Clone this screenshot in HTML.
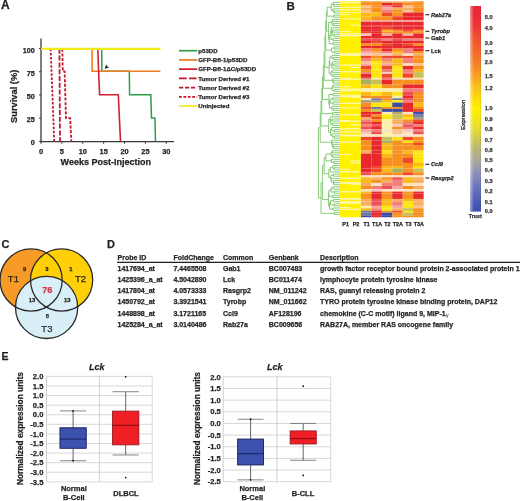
<!DOCTYPE html>
<html><head><meta charset="utf-8"><style>
html,body{margin:0;padding:0;background:#fff;}
body{width:520px;height:501px;overflow:hidden;}
svg{display:block;filter:blur(0.3px);font-family:"Liberation Sans", sans-serif;}
</style></head><body>
<svg width="520" height="501" viewBox="0 0 520 501">
<text x="1.0" y="8.5" font-size="12" font-weight="bold" font-style="normal" text-anchor="start" fill="#231f20" stroke="#231f20" stroke-width="0.25" >A</text>
<line x1="41" y1="38.5" x2="41" y2="142.3" stroke="#3a3a3a" stroke-width="1.3" />
<line x1="40.4" y1="141.7" x2="174" y2="141.7" stroke="#3a3a3a" stroke-width="1.3" />
<line x1="39" y1="141.3" x2="41" y2="141.3" stroke="#3a3a3a" stroke-width="1" />
<text x="34.7" y="145.3" font-size="7.2" font-weight="bold" font-style="normal" text-anchor="end" fill="#231f20" stroke="#231f20" stroke-width="0.25" >0</text>
<line x1="39" y1="118.11250000000001" x2="41" y2="118.11250000000001" stroke="#3a3a3a" stroke-width="1" />
<text x="34.7" y="122.11250000000001" font-size="7.2" font-weight="bold" font-style="normal" text-anchor="end" fill="#231f20" stroke="#231f20" stroke-width="0.25" >25</text>
<line x1="39" y1="94.92500000000001" x2="41" y2="94.92500000000001" stroke="#3a3a3a" stroke-width="1" />
<text x="34.7" y="98.92500000000001" font-size="7.2" font-weight="bold" font-style="normal" text-anchor="end" fill="#231f20" stroke="#231f20" stroke-width="0.25" >50</text>
<line x1="39" y1="71.73750000000001" x2="41" y2="71.73750000000001" stroke="#3a3a3a" stroke-width="1" />
<text x="34.7" y="75.73750000000001" font-size="7.2" font-weight="bold" font-style="normal" text-anchor="end" fill="#231f20" stroke="#231f20" stroke-width="0.25" >75</text>
<line x1="39" y1="48.55000000000001" x2="41" y2="48.55000000000001" stroke="#3a3a3a" stroke-width="1" />
<text x="34.7" y="52.55000000000001" font-size="7.2" font-weight="bold" font-style="normal" text-anchor="end" fill="#231f20" stroke="#231f20" stroke-width="0.25" >100</text>
<line x1="41.0" y1="141.7" x2="41.0" y2="143.8" stroke="#3a3a3a" stroke-width="1" />
<text x="41.0" y="154.2" font-size="7.4" font-weight="bold" font-style="normal" text-anchor="middle" fill="#231f20" stroke="#231f20" stroke-width="0.25" >0</text>
<line x1="61.879999999999995" y1="141.7" x2="61.879999999999995" y2="143.8" stroke="#3a3a3a" stroke-width="1" />
<text x="61.879999999999995" y="154.2" font-size="7.4" font-weight="bold" font-style="normal" text-anchor="middle" fill="#231f20" stroke="#231f20" stroke-width="0.25" >5</text>
<line x1="82.75999999999999" y1="141.7" x2="82.75999999999999" y2="143.8" stroke="#3a3a3a" stroke-width="1" />
<text x="82.75999999999999" y="154.2" font-size="7.4" font-weight="bold" font-style="normal" text-anchor="middle" fill="#231f20" stroke="#231f20" stroke-width="0.25" >10</text>
<line x1="103.64" y1="141.7" x2="103.64" y2="143.8" stroke="#3a3a3a" stroke-width="1" />
<text x="103.64" y="154.2" font-size="7.4" font-weight="bold" font-style="normal" text-anchor="middle" fill="#231f20" stroke="#231f20" stroke-width="0.25" >15</text>
<line x1="124.52" y1="141.7" x2="124.52" y2="143.8" stroke="#3a3a3a" stroke-width="1" />
<text x="124.52" y="154.2" font-size="7.4" font-weight="bold" font-style="normal" text-anchor="middle" fill="#231f20" stroke="#231f20" stroke-width="0.25" >20</text>
<line x1="145.39999999999998" y1="141.7" x2="145.39999999999998" y2="143.8" stroke="#3a3a3a" stroke-width="1" />
<text x="145.39999999999998" y="154.2" font-size="7.4" font-weight="bold" font-style="normal" text-anchor="middle" fill="#231f20" stroke="#231f20" stroke-width="0.25" >25</text>
<line x1="166.28" y1="141.7" x2="166.28" y2="143.8" stroke="#3a3a3a" stroke-width="1" />
<text x="166.28" y="154.2" font-size="7.4" font-weight="bold" font-style="normal" text-anchor="middle" fill="#231f20" stroke="#231f20" stroke-width="0.25" >30</text>
<text x="105.8" y="165.0" font-size="9.0" font-weight="bold" font-style="normal" text-anchor="middle" fill="#231f20" stroke="#231f20" stroke-width="0.25" >Weeks Post-Injection</text>
<text x="0" y="0" font-size="9.3" font-weight="bold" font-style="normal" text-anchor="middle" fill="#231f20" stroke="#231f20" stroke-width="0.25" transform="translate(17.3,96.3) rotate(-90)">Survival (%)</text>
<polyline points="50.60,48.80 52.50,96.00 54.20,141.50" fill="none" stroke="#c0182e" stroke-width="1.8" stroke-dasharray="2.5,1.6"/>
<polyline points="59.40,48.80 59.70,95.00 60.00,141.50" fill="none" stroke="#c0182e" stroke-width="1.8" stroke-dasharray="5,1.8"/>
<polyline points="62.30,48.80 62.80,71.30 64.60,71.30 66.00,118.20 70.20,118.20 71.30,141.50" fill="none" stroke="#c0182e" stroke-width="1.8" stroke-dasharray="3,1.6"/>
<polyline points="101.80,48.80 101.80,71.30 129.30,71.30 129.60,94.80 150.80,94.80 151.50,118.00 154.90,118.00 155.50,141.30" fill="none" stroke="#2e9e48" stroke-width="1.5" />
<polyline points="92.10,48.80 92.10,71.30 160.40,71.30" fill="none" stroke="#ef7d22" stroke-width="1.6" />
<polyline points="97.80,48.80 98.60,71.30 99.60,94.80 118.30,94.80 120.50,141.30" fill="none" stroke="#d21f2f" stroke-width="1.6" />
<line x1="41" y1="48.9" x2="160.4" y2="48.9" stroke="#f3ea1c" stroke-width="2.3" />
<path d="M105.0,68.5 L106.3,64.9 L106.9,66.6 L108.7,67.3 Z" fill="#111" stroke="#111" stroke-width="0.4"/>
<line x1="179" y1="50.7" x2="197.2" y2="50.7" stroke="#2e9e48" stroke-width="1.7" />
<text x="198.3" y="52.900000000000006" font-size="6.1" font-weight="bold" font-style="normal" text-anchor="start" fill="#231f20" stroke="#231f20" stroke-width="0.25" >p53DD</text>
<line x1="179" y1="59.92" x2="197.2" y2="59.92" stroke="#ef7d22" stroke-width="1.7" />
<text x="198.3" y="62.120000000000005" font-size="6.1" font-weight="bold" font-style="normal" text-anchor="start" fill="#231f20" stroke="#231f20" stroke-width="0.25" >GFP-Bfl-1/p53DD</text>
<line x1="179" y1="69.14" x2="197.2" y2="69.14" stroke="#d21f2f" stroke-width="1.7" />
<text x="198.3" y="71.34" font-size="6.1" font-weight="bold" font-style="normal" text-anchor="start" fill="#231f20" stroke="#231f20" stroke-width="0.25" >GFP-Bfl-1&#916;C/p53DD</text>
<line x1="179" y1="78.36000000000001" x2="197.2" y2="78.36000000000001" stroke="#c0182e" stroke-width="1.7" stroke-dasharray="7.6,2.4"/>
<text x="198.3" y="80.56000000000002" font-size="6.1" font-weight="bold" font-style="normal" text-anchor="start" fill="#231f20" stroke="#231f20" stroke-width="0.25" >Tumor Derived #1</text>
<line x1="179" y1="87.58000000000001" x2="197.2" y2="87.58000000000001" stroke="#c0182e" stroke-width="1.7" stroke-dasharray="4.2,1.8"/>
<text x="198.3" y="89.78000000000002" font-size="6.1" font-weight="bold" font-style="normal" text-anchor="start" fill="#231f20" stroke="#231f20" stroke-width="0.25" >Tumor Derived #2</text>
<line x1="179" y1="96.80000000000001" x2="197.2" y2="96.80000000000001" stroke="#c0182e" stroke-width="1.7" stroke-dasharray="2.8,1.6"/>
<text x="198.3" y="99.00000000000001" font-size="6.1" font-weight="bold" font-style="normal" text-anchor="start" fill="#231f20" stroke="#231f20" stroke-width="0.25" >Tumor Derived #3</text>
<line x1="179" y1="106.02000000000001" x2="197.2" y2="106.02000000000001" stroke="#f3ea1c" stroke-width="1.7" />
<text x="198.3" y="108.22000000000001" font-size="6.1" font-weight="bold" font-style="normal" text-anchor="start" fill="#231f20" stroke="#231f20" stroke-width="0.25" >Uninjected</text>
<text x="286.5" y="9.8" font-size="11.5" font-weight="bold" font-style="normal" text-anchor="start" fill="#231f20" stroke="#231f20" stroke-width="0.25" >B</text>
<rect x="340.0" y="1.3" width="20.90" height="215.90" fill="#fff100"/>
<rect x="340.0" y="2" width="20.90" height="1.50" fill="#fff5a0"/>
<rect x="340.0" y="6.6" width="20.90" height="1.40" fill="#fff5a0"/>
<rect x="340.0" y="9" width="20.90" height="1.50" fill="#fff5a0"/>
<rect x="340.0" y="12" width="20.90" height="1.00" fill="#fff5a0"/>
<rect x="340.0" y="34.5" width="20.90" height="1.50" fill="#fff5a0"/>
<rect x="340.0" y="53" width="20.90" height="3.00" fill="#fff5a0"/>
<rect x="340.0" y="64.5" width="20.90" height="1.50" fill="#fff5a0"/>
<rect x="340.0" y="71" width="20.90" height="1.50" fill="#fff5a0"/>
<rect x="340.0" y="78.5" width="20.90" height="1.50" fill="#fff5a0"/>
<rect x="340.0" y="88.5" width="20.90" height="2.50" fill="#fff5a0"/>
<rect x="340.0" y="96" width="20.90" height="1.50" fill="#fff5a0"/>
<rect x="340.0" y="102.5" width="20.90" height="1.50" fill="#fff5a0"/>
<rect x="340.0" y="114" width="20.90" height="1.50" fill="#fff5a0"/>
<rect x="340.0" y="120.5" width="20.90" height="1.50" fill="#fff5a0"/>
<rect x="340.0" y="128" width="20.90" height="1.50" fill="#fff5a0"/>
<rect x="340.0" y="131" width="20.90" height="1.50" fill="#fff5a0"/>
<rect x="340.0" y="134.5" width="20.90" height="2.00" fill="#fff5a0"/>
<rect x="340.0" y="141.5" width="20.90" height="1.50" fill="#fff5a0"/>
<rect x="340.0" y="171" width="20.90" height="1.50" fill="#fff5a0"/>
<rect x="340.0" y="177.5" width="20.90" height="1.50" fill="#fff5a0"/>
<rect x="340.0" y="182" width="20.90" height="2.00" fill="#fff5a0"/>
<rect x="340.0" y="191" width="20.90" height="1.50" fill="#fff5a0"/>
<rect x="340.0" y="198" width="20.90" height="1.50" fill="#fff5a0"/>
<rect x="340.0" y="201" width="20.90" height="2.00" fill="#fff5a0"/>
<rect x="340.0" y="208.5" width="20.90" height="1.50" fill="#fff5a0"/>
<rect x="340.00" y="14.02" width="10.45" height="1.1" fill="#fff7b0"/>
<rect x="340.00" y="18.26" width="20.90" height="1.1" fill="#fff7b0"/>
<rect x="350.45" y="24.62" width="10.45" height="1.1" fill="#fff7b0"/>
<rect x="340.00" y="30.98" width="10.45" height="1.1" fill="#fff7b0"/>
<rect x="340.00" y="33.10" width="20.90" height="1.1" fill="#fff7b0"/>
<rect x="340.00" y="35.22" width="20.90" height="1.1" fill="#fff7b0"/>
<rect x="350.45" y="67.02" width="10.45" height="1.1" fill="#fff7b0"/>
<rect x="340.00" y="77.62" width="10.45" height="1.1" fill="#fff7b0"/>
<rect x="340.00" y="86.10" width="10.45" height="1.1" fill="#fff7b0"/>
<rect x="340.00" y="90.34" width="10.45" height="1.1" fill="#fff7b0"/>
<rect x="340.00" y="94.58" width="20.90" height="1.1" fill="#fff7b0"/>
<rect x="350.45" y="96.70" width="10.45" height="1.1" fill="#fff7b0"/>
<rect x="350.45" y="103.06" width="10.45" height="1.1" fill="#fff7b0"/>
<rect x="340.00" y="107.30" width="20.90" height="1.1" fill="#fff7b0"/>
<rect x="340.00" y="120.02" width="10.45" height="1.1" fill="#fff7b0"/>
<rect x="350.45" y="124.26" width="10.45" height="1.1" fill="#fff7b0"/>
<rect x="340.00" y="134.86" width="10.45" height="1.1" fill="#fff7b0"/>
<rect x="340.00" y="153.94" width="10.45" height="1.1" fill="#fff7b0"/>
<rect x="350.45" y="160.30" width="10.45" height="1.1" fill="#fff7b0"/>
<rect x="350.45" y="162.42" width="10.45" height="1.1" fill="#fff7b0"/>
<rect x="340.00" y="168.78" width="10.45" height="1.1" fill="#fff7b0"/>
<rect x="350.45" y="183.62" width="10.45" height="1.1" fill="#fff7b0"/>
<rect x="340.00" y="198.46" width="20.90" height="1.1" fill="#fff7b0"/>
<rect x="340.00" y="202.70" width="20.90" height="1.1" fill="#fff7b0"/>
<rect x="340.00" y="206.94" width="10.45" height="1.1" fill="#fff7b0"/>
<rect x="360.90" y="1.3" width="10.50" height="1.55" fill="#f7901f"/>
<rect x="371.35" y="1.3" width="10.50" height="1.55" fill="#f7901f"/>
<rect x="381.80" y="1.3" width="10.50" height="1.55" fill="#f9ad62"/>
<rect x="392.25" y="1.3" width="10.50" height="1.55" fill="#f9ad62"/>
<rect x="402.70" y="1.3" width="10.50" height="1.55" fill="#f9ad62"/>
<rect x="413.15" y="1.3" width="10.50" height="1.55" fill="#f7901f"/>
<rect x="360.90" y="2.8" width="10.50" height="2.85" fill="#f7901f"/>
<rect x="371.35" y="2.8" width="10.50" height="2.85" fill="#f7901f"/>
<rect x="381.80" y="2.8" width="10.50" height="2.85" fill="#e8282c"/>
<rect x="392.25" y="2.8" width="10.50" height="2.85" fill="#ee4a2a"/>
<rect x="402.70" y="2.8" width="10.50" height="2.85" fill="#f7901f"/>
<rect x="413.15" y="2.8" width="10.50" height="2.85" fill="#f7901f"/>
<rect x="360.90" y="5.6" width="10.50" height="1.95" fill="#fbc48e"/>
<rect x="371.35" y="5.6" width="10.50" height="1.95" fill="#f7901f"/>
<rect x="381.80" y="5.6" width="10.50" height="1.95" fill="#f37f7a"/>
<rect x="392.25" y="5.6" width="10.50" height="1.95" fill="#e8282c"/>
<rect x="402.70" y="5.6" width="10.50" height="1.95" fill="#fbc48e"/>
<rect x="413.15" y="5.6" width="10.50" height="1.95" fill="#f7901f"/>
<rect x="360.90" y="7.5" width="10.50" height="2.55" fill="#f9ad62"/>
<rect x="371.35" y="7.5" width="10.50" height="2.55" fill="#f7901f"/>
<rect x="381.80" y="7.5" width="10.50" height="2.55" fill="#f6a8a0"/>
<rect x="392.25" y="7.5" width="10.50" height="2.55" fill="#f9ad62"/>
<rect x="402.70" y="7.5" width="10.50" height="2.55" fill="#f9ad62"/>
<rect x="413.15" y="7.5" width="10.50" height="2.55" fill="#f7901f"/>
<rect x="360.90" y="10.0" width="10.50" height="2.55" fill="#fbc48e"/>
<rect x="371.35" y="10.0" width="10.50" height="2.55" fill="#f7901f"/>
<rect x="381.80" y="10.0" width="10.50" height="2.55" fill="#f37f7a"/>
<rect x="392.25" y="10.0" width="10.50" height="2.55" fill="#f7901f"/>
<rect x="402.70" y="10.0" width="10.50" height="2.55" fill="#fbc48e"/>
<rect x="413.15" y="10.0" width="10.50" height="2.55" fill="#f7901f"/>
<rect x="360.90" y="12.5" width="10.50" height="3.85" fill="#fbb81a"/>
<rect x="371.35" y="12.5" width="10.50" height="3.85" fill="#fbb81a"/>
<rect x="381.80" y="12.5" width="10.50" height="3.85" fill="#ee4a2a"/>
<rect x="392.25" y="12.5" width="10.50" height="3.85" fill="#f7901f"/>
<rect x="402.70" y="12.5" width="10.50" height="3.85" fill="#e8282c"/>
<rect x="413.15" y="12.5" width="10.50" height="3.85" fill="#e8282c"/>
<rect x="360.90" y="16.3" width="10.50" height="3.75" fill="#fbb81a"/>
<rect x="371.35" y="16.3" width="10.50" height="3.75" fill="#f7901f"/>
<rect x="381.80" y="16.3" width="10.50" height="3.75" fill="#f7901f"/>
<rect x="392.25" y="16.3" width="10.50" height="3.75" fill="#ee4a2a"/>
<rect x="402.70" y="16.3" width="10.50" height="3.75" fill="#e8282c"/>
<rect x="413.15" y="16.3" width="10.50" height="3.75" fill="#e8282c"/>
<rect x="360.90" y="20.0" width="10.50" height="1.95" fill="#f6a8a0"/>
<rect x="371.35" y="20.0" width="10.50" height="1.95" fill="#f6a8a0"/>
<rect x="381.80" y="20.0" width="10.50" height="1.95" fill="#f6a8a0"/>
<rect x="392.25" y="20.0" width="10.50" height="1.95" fill="#f6a8a0"/>
<rect x="402.70" y="20.0" width="10.50" height="1.95" fill="#f6a8a0"/>
<rect x="413.15" y="20.0" width="10.50" height="1.95" fill="#f6a8a0"/>
<rect x="360.90" y="21.9" width="10.50" height="3.15" fill="#e8282c"/>
<rect x="371.35" y="21.9" width="10.50" height="3.15" fill="#e8282c"/>
<rect x="381.80" y="21.9" width="10.50" height="3.15" fill="#e8282c"/>
<rect x="392.25" y="21.9" width="10.50" height="3.15" fill="#e8282c"/>
<rect x="402.70" y="21.9" width="10.50" height="3.15" fill="#e8282c"/>
<rect x="413.15" y="21.9" width="10.50" height="3.15" fill="#e8282c"/>
<rect x="360.90" y="25.0" width="10.50" height="1.95" fill="#ee5058"/>
<rect x="371.35" y="25.0" width="10.50" height="1.95" fill="#ee5058"/>
<rect x="381.80" y="25.0" width="10.50" height="1.95" fill="#ee5058"/>
<rect x="392.25" y="25.0" width="10.50" height="1.95" fill="#ee5058"/>
<rect x="402.70" y="25.0" width="10.50" height="1.95" fill="#ee5058"/>
<rect x="413.15" y="25.0" width="10.50" height="1.95" fill="#ee5058"/>
<rect x="360.90" y="26.9" width="10.50" height="2.95" fill="#e8282c"/>
<rect x="371.35" y="26.9" width="10.50" height="2.95" fill="#e8282c"/>
<rect x="381.80" y="26.9" width="10.50" height="2.95" fill="#ee4a2a"/>
<rect x="392.25" y="26.9" width="10.50" height="2.95" fill="#e8282c"/>
<rect x="402.70" y="26.9" width="10.50" height="2.95" fill="#e8282c"/>
<rect x="413.15" y="26.9" width="10.50" height="2.95" fill="#e8282c"/>
<rect x="360.90" y="29.8" width="10.50" height="1.95" fill="#e8282c"/>
<rect x="371.35" y="29.8" width="10.50" height="1.95" fill="#e8282c"/>
<rect x="381.80" y="29.8" width="10.50" height="1.95" fill="#fbb81a"/>
<rect x="392.25" y="29.8" width="10.50" height="1.95" fill="#f7901f"/>
<rect x="402.70" y="29.8" width="10.50" height="1.95" fill="#ee4a2a"/>
<rect x="413.15" y="29.8" width="10.50" height="1.95" fill="#f7901f"/>
<rect x="360.90" y="31.7" width="10.50" height="1.85" fill="#ee4a2a"/>
<rect x="371.35" y="31.7" width="10.50" height="1.85" fill="#e8282c"/>
<rect x="381.80" y="31.7" width="10.50" height="1.85" fill="#f7901f"/>
<rect x="392.25" y="31.7" width="10.50" height="1.85" fill="#f7901f"/>
<rect x="402.70" y="31.7" width="10.50" height="1.85" fill="#f7901f"/>
<rect x="413.15" y="31.7" width="10.50" height="1.85" fill="#f7901f"/>
<rect x="360.90" y="33.5" width="10.50" height="2.55" fill="#f9c6bd"/>
<rect x="371.35" y="33.5" width="10.50" height="2.55" fill="#e8282c"/>
<rect x="381.80" y="33.5" width="10.50" height="2.55" fill="#f6a8a0"/>
<rect x="392.25" y="33.5" width="10.50" height="2.55" fill="#e8282c"/>
<rect x="402.70" y="33.5" width="10.50" height="2.55" fill="#f6a8a0"/>
<rect x="413.15" y="33.5" width="10.50" height="2.55" fill="#e8282c"/>
<rect x="360.90" y="36.0" width="10.50" height="2.55" fill="#e8282c"/>
<rect x="371.35" y="36.0" width="10.50" height="2.55" fill="#e8282c"/>
<rect x="381.80" y="36.0" width="10.50" height="2.55" fill="#e8282c"/>
<rect x="392.25" y="36.0" width="10.50" height="2.55" fill="#e8282c"/>
<rect x="402.70" y="36.0" width="10.50" height="2.55" fill="#e8282c"/>
<rect x="413.15" y="36.0" width="10.50" height="2.55" fill="#e8282c"/>
<rect x="360.90" y="38.5" width="10.50" height="2.55" fill="#ee5058"/>
<rect x="371.35" y="38.5" width="10.50" height="2.55" fill="#ee5058"/>
<rect x="381.80" y="38.5" width="10.50" height="2.55" fill="#f37f7a"/>
<rect x="392.25" y="38.5" width="10.50" height="2.55" fill="#ee5058"/>
<rect x="402.70" y="38.5" width="10.50" height="2.55" fill="#f37f7a"/>
<rect x="413.15" y="38.5" width="10.50" height="2.55" fill="#f37f7a"/>
<rect x="360.90" y="41.0" width="10.50" height="2.55" fill="#e8282c"/>
<rect x="371.35" y="41.0" width="10.50" height="2.55" fill="#ee4a2a"/>
<rect x="381.80" y="41.0" width="10.50" height="2.55" fill="#e8282c"/>
<rect x="392.25" y="41.0" width="10.50" height="2.55" fill="#e8282c"/>
<rect x="402.70" y="41.0" width="10.50" height="2.55" fill="#e8282c"/>
<rect x="413.15" y="41.0" width="10.50" height="2.55" fill="#e8282c"/>
<rect x="360.90" y="43.5" width="10.50" height="2.55" fill="#f7901f"/>
<rect x="371.35" y="43.5" width="10.50" height="2.55" fill="#f7901f"/>
<rect x="381.80" y="43.5" width="10.50" height="2.55" fill="#ee4a2a"/>
<rect x="392.25" y="43.5" width="10.50" height="2.55" fill="#e8282c"/>
<rect x="402.70" y="43.5" width="10.50" height="2.55" fill="#ee4a2a"/>
<rect x="413.15" y="43.5" width="10.50" height="2.55" fill="#f7901f"/>
<rect x="360.90" y="46.0" width="10.50" height="2.55" fill="#e8282c"/>
<rect x="371.35" y="46.0" width="10.50" height="2.55" fill="#e8282c"/>
<rect x="381.80" y="46.0" width="10.50" height="2.55" fill="#e8282c"/>
<rect x="392.25" y="46.0" width="10.50" height="2.55" fill="#e8282c"/>
<rect x="402.70" y="46.0" width="10.50" height="2.55" fill="#e8282c"/>
<rect x="413.15" y="46.0" width="10.50" height="2.55" fill="#e8282c"/>
<rect x="360.90" y="48.5" width="10.50" height="2.55" fill="#f37f7a"/>
<rect x="371.35" y="48.5" width="10.50" height="2.55" fill="#f7901f"/>
<rect x="381.80" y="48.5" width="10.50" height="2.55" fill="#e8282c"/>
<rect x="392.25" y="48.5" width="10.50" height="2.55" fill="#f7901f"/>
<rect x="402.70" y="48.5" width="10.50" height="2.55" fill="#f37f7a"/>
<rect x="413.15" y="48.5" width="10.50" height="2.55" fill="#e8282c"/>
<rect x="360.90" y="51.0" width="10.50" height="2.55" fill="#f6a8a0"/>
<rect x="371.35" y="51.0" width="10.50" height="2.55" fill="#f9ad62"/>
<rect x="381.80" y="51.0" width="10.50" height="2.55" fill="#f37f7a"/>
<rect x="392.25" y="51.0" width="10.50" height="2.55" fill="#fbb81a"/>
<rect x="402.70" y="51.0" width="10.50" height="2.55" fill="#f37f7a"/>
<rect x="413.15" y="51.0" width="10.50" height="2.55" fill="#f7901f"/>
<rect x="360.90" y="53.5" width="10.50" height="2.45" fill="#f9c6bd"/>
<rect x="371.35" y="53.5" width="10.50" height="2.45" fill="#fbc48e"/>
<rect x="381.80" y="53.5" width="10.50" height="2.45" fill="#f9c6bd"/>
<rect x="392.25" y="53.5" width="10.50" height="2.45" fill="#f9ad62"/>
<rect x="402.70" y="53.5" width="10.50" height="2.45" fill="#fbe3c4"/>
<rect x="413.15" y="53.5" width="10.50" height="2.45" fill="#f9ad62"/>
<rect x="360.90" y="55.9" width="10.50" height="2.55" fill="#ee4a2a"/>
<rect x="371.35" y="55.9" width="10.50" height="2.55" fill="#f7901f"/>
<rect x="381.80" y="55.9" width="10.50" height="2.55" fill="#ee4a2a"/>
<rect x="392.25" y="55.9" width="10.50" height="2.55" fill="#ee4a2a"/>
<rect x="402.70" y="55.9" width="10.50" height="2.55" fill="#ee4a2a"/>
<rect x="413.15" y="55.9" width="10.50" height="2.55" fill="#f7901f"/>
<rect x="360.90" y="58.4" width="10.50" height="2.55" fill="#f37f7a"/>
<rect x="371.35" y="58.4" width="10.50" height="2.55" fill="#fbb81a"/>
<rect x="381.80" y="58.4" width="10.50" height="2.55" fill="#f37f7a"/>
<rect x="392.25" y="58.4" width="10.50" height="2.55" fill="#fbb81a"/>
<rect x="402.70" y="58.4" width="10.50" height="2.55" fill="#f37f7a"/>
<rect x="413.15" y="58.4" width="10.50" height="2.55" fill="#f7901f"/>
<rect x="360.90" y="60.9" width="10.50" height="2.55" fill="#fbc48e"/>
<rect x="371.35" y="60.9" width="10.50" height="2.55" fill="#fde512"/>
<rect x="381.80" y="60.9" width="10.50" height="2.55" fill="#f9ad62"/>
<rect x="392.25" y="60.9" width="10.50" height="2.55" fill="#fbb81a"/>
<rect x="402.70" y="60.9" width="10.50" height="2.55" fill="#f37f7a"/>
<rect x="413.15" y="60.9" width="10.50" height="2.55" fill="#f7901f"/>
<rect x="360.90" y="63.4" width="10.50" height="2.55" fill="#f6a8a0"/>
<rect x="371.35" y="63.4" width="10.50" height="2.55" fill="#fde512"/>
<rect x="381.80" y="63.4" width="10.50" height="2.55" fill="#f6a8a0"/>
<rect x="392.25" y="63.4" width="10.50" height="2.55" fill="#fbb81a"/>
<rect x="402.70" y="63.4" width="10.50" height="2.55" fill="#fbe3c4"/>
<rect x="413.15" y="63.4" width="10.50" height="2.55" fill="#fbc48e"/>
<rect x="360.90" y="65.9" width="10.50" height="3.75" fill="#ee4a2a"/>
<rect x="371.35" y="65.9" width="10.50" height="3.75" fill="#fde512"/>
<rect x="381.80" y="65.9" width="10.50" height="3.75" fill="#ee4a2a"/>
<rect x="392.25" y="65.9" width="10.50" height="3.75" fill="#fde512"/>
<rect x="402.70" y="65.9" width="10.50" height="3.75" fill="#e8282c"/>
<rect x="413.15" y="65.9" width="10.50" height="3.75" fill="#f7901f"/>
<rect x="360.90" y="69.6" width="10.50" height="2.55" fill="#f7901f"/>
<rect x="371.35" y="69.6" width="10.50" height="2.55" fill="#fde512"/>
<rect x="381.80" y="69.6" width="10.50" height="2.55" fill="#f37f7a"/>
<rect x="392.25" y="69.6" width="10.50" height="2.55" fill="#fde512"/>
<rect x="402.70" y="69.6" width="10.50" height="2.55" fill="#f37f7a"/>
<rect x="413.15" y="69.6" width="10.50" height="2.55" fill="#fbb81a"/>
<rect x="360.90" y="72.1" width="10.50" height="1.95" fill="#f37f7a"/>
<rect x="371.35" y="72.1" width="10.50" height="1.95" fill="#fde512"/>
<rect x="381.80" y="72.1" width="10.50" height="1.95" fill="#f9c6bd"/>
<rect x="392.25" y="72.1" width="10.50" height="1.95" fill="#fde512"/>
<rect x="402.70" y="72.1" width="10.50" height="1.95" fill="#f37f7a"/>
<rect x="413.15" y="72.1" width="10.50" height="1.95" fill="#c8c058"/>
<rect x="360.90" y="74.0" width="10.50" height="3.85" fill="#e8282c"/>
<rect x="371.35" y="74.0" width="10.50" height="3.85" fill="#fde512"/>
<rect x="381.80" y="74.0" width="10.50" height="3.85" fill="#ee4a2a"/>
<rect x="392.25" y="74.0" width="10.50" height="3.85" fill="#fde512"/>
<rect x="402.70" y="74.0" width="10.50" height="3.85" fill="#ee4a2a"/>
<rect x="413.15" y="74.0" width="10.50" height="3.85" fill="#c8c058"/>
<rect x="360.90" y="77.8" width="10.50" height="1.85" fill="#f37f7a"/>
<rect x="371.35" y="77.8" width="10.50" height="1.85" fill="#fcf0a8"/>
<rect x="381.80" y="77.8" width="10.50" height="1.85" fill="#f37f7a"/>
<rect x="392.25" y="77.8" width="10.50" height="1.85" fill="#fbe3c4"/>
<rect x="402.70" y="77.8" width="10.50" height="1.85" fill="#fbe3c4"/>
<rect x="413.15" y="77.8" width="10.50" height="1.85" fill="#fbe3c4"/>
<rect x="360.90" y="79.6" width="10.50" height="4.95" fill="#a8b060"/>
<rect x="371.35" y="79.6" width="10.50" height="4.95" fill="#c8c058"/>
<rect x="381.80" y="79.6" width="10.50" height="4.95" fill="#e8282c"/>
<rect x="392.25" y="79.6" width="10.50" height="4.95" fill="#f7901f"/>
<rect x="402.70" y="79.6" width="10.50" height="4.95" fill="#f7901f"/>
<rect x="413.15" y="79.6" width="10.50" height="4.95" fill="#f7901f"/>
<rect x="360.90" y="84.5" width="10.50" height="3.85" fill="#fbb81a"/>
<rect x="371.35" y="84.5" width="10.50" height="3.85" fill="#fde512"/>
<rect x="381.80" y="84.5" width="10.50" height="3.85" fill="#f7901f"/>
<rect x="392.25" y="84.5" width="10.50" height="3.85" fill="#f7901f"/>
<rect x="402.70" y="84.5" width="10.50" height="3.85" fill="#e8282c"/>
<rect x="413.15" y="84.5" width="10.50" height="3.85" fill="#e8282c"/>
<rect x="360.90" y="88.3" width="10.50" height="3.75" fill="#fcf0a8"/>
<rect x="371.35" y="88.3" width="10.50" height="3.75" fill="#fcf0a8"/>
<rect x="381.80" y="88.3" width="10.50" height="3.75" fill="#fcf0a8"/>
<rect x="392.25" y="88.3" width="10.50" height="3.75" fill="#fcf0a8"/>
<rect x="402.70" y="88.3" width="10.50" height="3.75" fill="#f37f7a"/>
<rect x="413.15" y="88.3" width="10.50" height="3.75" fill="#f37f7a"/>
<rect x="360.90" y="92.0" width="10.50" height="3.85" fill="#fbb81a"/>
<rect x="371.35" y="92.0" width="10.50" height="3.85" fill="#fde512"/>
<rect x="381.80" y="92.0" width="10.50" height="3.85" fill="#fbb81a"/>
<rect x="392.25" y="92.0" width="10.50" height="3.85" fill="#fde512"/>
<rect x="402.70" y="92.0" width="10.50" height="3.85" fill="#ee5058"/>
<rect x="413.15" y="92.0" width="10.50" height="3.85" fill="#f7901f"/>
<rect x="360.90" y="95.8" width="10.50" height="2.55" fill="#f7901f"/>
<rect x="371.35" y="95.8" width="10.50" height="2.55" fill="#f7901f"/>
<rect x="381.80" y="95.8" width="10.50" height="2.55" fill="#f7901f"/>
<rect x="392.25" y="95.8" width="10.50" height="2.55" fill="#fcf0a8"/>
<rect x="402.70" y="95.8" width="10.50" height="2.55" fill="#e8282c"/>
<rect x="413.15" y="95.8" width="10.50" height="2.55" fill="#f7901f"/>
<rect x="360.90" y="98.3" width="10.50" height="1.85" fill="#fbe3c4"/>
<rect x="371.35" y="98.3" width="10.50" height="1.85" fill="#7078a8"/>
<rect x="381.80" y="98.3" width="10.50" height="1.85" fill="#f7901f"/>
<rect x="392.25" y="98.3" width="10.50" height="1.85" fill="#7078a8"/>
<rect x="402.70" y="98.3" width="10.50" height="1.85" fill="#ee5058"/>
<rect x="413.15" y="98.3" width="10.50" height="1.85" fill="#f7901f"/>
<rect x="360.90" y="100.1" width="10.50" height="2.55" fill="#a0a088"/>
<rect x="371.35" y="100.1" width="10.50" height="2.55" fill="#a0a088"/>
<rect x="381.80" y="100.1" width="10.50" height="2.55" fill="#fbb81a"/>
<rect x="392.25" y="100.1" width="10.50" height="2.55" fill="#fde512"/>
<rect x="402.70" y="100.1" width="10.50" height="2.55" fill="#f37f7a"/>
<rect x="413.15" y="100.1" width="10.50" height="2.55" fill="#f7901f"/>
<rect x="360.90" y="102.6" width="10.50" height="4.45" fill="#f7901f"/>
<rect x="371.35" y="102.6" width="10.50" height="4.45" fill="#fde512"/>
<rect x="381.80" y="102.6" width="10.50" height="4.45" fill="#fde512"/>
<rect x="392.25" y="102.6" width="10.50" height="4.45" fill="#3c4ca4"/>
<rect x="402.70" y="102.6" width="10.50" height="4.45" fill="#e8282c"/>
<rect x="413.15" y="102.6" width="10.50" height="4.45" fill="#fbb81a"/>
<rect x="360.90" y="107.0" width="10.50" height="1.95" fill="#ee5058"/>
<rect x="371.35" y="107.0" width="10.50" height="1.95" fill="#7078a8"/>
<rect x="381.80" y="107.0" width="10.50" height="1.95" fill="#f7901f"/>
<rect x="392.25" y="107.0" width="10.50" height="1.95" fill="#f7901f"/>
<rect x="402.70" y="107.0" width="10.50" height="1.95" fill="#e8282c"/>
<rect x="413.15" y="107.0" width="10.50" height="1.95" fill="#f7901f"/>
<rect x="360.90" y="108.9" width="10.50" height="3.05" fill="#f7901f"/>
<rect x="371.35" y="108.9" width="10.50" height="3.05" fill="#c8c058"/>
<rect x="381.80" y="108.9" width="10.50" height="3.05" fill="#3c4ca4"/>
<rect x="392.25" y="108.9" width="10.50" height="3.05" fill="#3c4ca4"/>
<rect x="402.70" y="108.9" width="10.50" height="3.05" fill="#e8282c"/>
<rect x="413.15" y="108.9" width="10.50" height="3.05" fill="#ee4a2a"/>
<rect x="360.90" y="111.9" width="10.50" height="2.55" fill="#e8282c"/>
<rect x="371.35" y="111.9" width="10.50" height="2.55" fill="#e8282c"/>
<rect x="381.80" y="111.9" width="10.50" height="2.55" fill="#fcf0a8"/>
<rect x="392.25" y="111.9" width="10.50" height="2.55" fill="#c0a468"/>
<rect x="402.70" y="111.9" width="10.50" height="2.55" fill="#fbe3c4"/>
<rect x="413.15" y="111.9" width="10.50" height="2.55" fill="#3c4ca4"/>
<rect x="360.90" y="114.4" width="10.50" height="2.55" fill="#e8282c"/>
<rect x="371.35" y="114.4" width="10.50" height="2.55" fill="#f7901f"/>
<rect x="381.80" y="114.4" width="10.50" height="2.55" fill="#fde512"/>
<rect x="392.25" y="114.4" width="10.50" height="2.55" fill="#c8c058"/>
<rect x="402.70" y="114.4" width="10.50" height="2.55" fill="#fbb81a"/>
<rect x="413.15" y="114.4" width="10.50" height="2.55" fill="#7078a8"/>
<rect x="360.90" y="116.9" width="10.50" height="2.55" fill="#f9ad62"/>
<rect x="371.35" y="116.9" width="10.50" height="2.55" fill="#ee4a2a"/>
<rect x="381.80" y="116.9" width="10.50" height="2.55" fill="#fde512"/>
<rect x="392.25" y="116.9" width="10.50" height="2.55" fill="#c8c058"/>
<rect x="402.70" y="116.9" width="10.50" height="2.55" fill="#fde512"/>
<rect x="413.15" y="116.9" width="10.50" height="2.55" fill="#a0a088"/>
<rect x="360.90" y="119.4" width="10.50" height="2.55" fill="#f37f7a"/>
<rect x="371.35" y="119.4" width="10.50" height="2.55" fill="#f7901f"/>
<rect x="381.80" y="119.4" width="10.50" height="2.55" fill="#fcf0a8"/>
<rect x="392.25" y="119.4" width="10.50" height="2.55" fill="#f9ad62"/>
<rect x="402.70" y="119.4" width="10.50" height="2.55" fill="#f7901f"/>
<rect x="413.15" y="119.4" width="10.50" height="2.55" fill="#ee4a2a"/>
<rect x="360.90" y="121.9" width="10.50" height="2.55" fill="#ee5058"/>
<rect x="371.35" y="121.9" width="10.50" height="2.55" fill="#e8282c"/>
<rect x="381.80" y="121.9" width="10.50" height="2.55" fill="#fcf0a8"/>
<rect x="392.25" y="121.9" width="10.50" height="2.55" fill="#f9ad62"/>
<rect x="402.70" y="121.9" width="10.50" height="2.55" fill="#f37f7a"/>
<rect x="413.15" y="121.9" width="10.50" height="2.55" fill="#e8282c"/>
<rect x="360.90" y="124.4" width="10.50" height="2.55" fill="#f37f7a"/>
<rect x="371.35" y="124.4" width="10.50" height="2.55" fill="#ee5058"/>
<rect x="381.80" y="124.4" width="10.50" height="2.55" fill="#fcf0a8"/>
<rect x="392.25" y="124.4" width="10.50" height="2.55" fill="#f9c6bd"/>
<rect x="402.70" y="124.4" width="10.50" height="2.55" fill="#ee5058"/>
<rect x="413.15" y="124.4" width="10.50" height="2.55" fill="#f37f7a"/>
<rect x="360.90" y="126.9" width="10.50" height="2.55" fill="#ee5058"/>
<rect x="371.35" y="126.9" width="10.50" height="2.55" fill="#e8282c"/>
<rect x="381.80" y="126.9" width="10.50" height="2.55" fill="#fcf0a8"/>
<rect x="392.25" y="126.9" width="10.50" height="2.55" fill="#f7901f"/>
<rect x="402.70" y="126.9" width="10.50" height="2.55" fill="#f37f7a"/>
<rect x="413.15" y="126.9" width="10.50" height="2.55" fill="#e8282c"/>
<rect x="360.90" y="129.4" width="10.50" height="2.55" fill="#f6a8a0"/>
<rect x="371.35" y="129.4" width="10.50" height="2.55" fill="#f37f7a"/>
<rect x="381.80" y="129.4" width="10.50" height="2.55" fill="#fbe3c4"/>
<rect x="392.25" y="129.4" width="10.50" height="2.55" fill="#fbc48e"/>
<rect x="402.70" y="129.4" width="10.50" height="2.55" fill="#f9c6bd"/>
<rect x="413.15" y="129.4" width="10.50" height="2.55" fill="#f37f7a"/>
<rect x="360.90" y="131.9" width="10.50" height="2.55" fill="#f9c6bd"/>
<rect x="371.35" y="131.9" width="10.50" height="2.55" fill="#ee5058"/>
<rect x="381.80" y="131.9" width="10.50" height="2.55" fill="#fcf0a8"/>
<rect x="392.25" y="131.9" width="10.50" height="2.55" fill="#fbc48e"/>
<rect x="402.70" y="131.9" width="10.50" height="2.55" fill="#fbe3c4"/>
<rect x="413.15" y="131.9" width="10.50" height="2.55" fill="#ee5058"/>
<rect x="360.90" y="134.4" width="10.50" height="2.55" fill="#fbe3c4"/>
<rect x="371.35" y="134.4" width="10.50" height="2.55" fill="#fbe3c4"/>
<rect x="381.80" y="134.4" width="10.50" height="2.55" fill="#fcf0a8"/>
<rect x="392.25" y="134.4" width="10.50" height="2.55" fill="#fbe3c4"/>
<rect x="402.70" y="134.4" width="10.50" height="2.55" fill="#fbe3c4"/>
<rect x="413.15" y="134.4" width="10.50" height="2.55" fill="#fbe3c4"/>
<rect x="360.90" y="136.9" width="10.50" height="3.65" fill="#ee4a2a"/>
<rect x="371.35" y="136.9" width="10.50" height="3.65" fill="#e8282c"/>
<rect x="381.80" y="136.9" width="10.50" height="3.65" fill="#c8c058"/>
<rect x="392.25" y="136.9" width="10.50" height="3.65" fill="#fde512"/>
<rect x="402.70" y="136.9" width="10.50" height="3.65" fill="#ee4a2a"/>
<rect x="413.15" y="136.9" width="10.50" height="3.65" fill="#f7901f"/>
<rect x="360.90" y="140.5" width="10.50" height="2.55" fill="#f7901f"/>
<rect x="371.35" y="140.5" width="10.50" height="2.55" fill="#e8282c"/>
<rect x="381.80" y="140.5" width="10.50" height="2.55" fill="#a8b060"/>
<rect x="392.25" y="140.5" width="10.50" height="2.55" fill="#f7901f"/>
<rect x="402.70" y="140.5" width="10.50" height="2.55" fill="#fde512"/>
<rect x="413.15" y="140.5" width="10.50" height="2.55" fill="#f7901f"/>
<rect x="360.90" y="143.0" width="10.50" height="2.55" fill="#f7901f"/>
<rect x="371.35" y="143.0" width="10.50" height="2.55" fill="#e8282c"/>
<rect x="381.80" y="143.0" width="10.50" height="2.55" fill="#fbb81a"/>
<rect x="392.25" y="143.0" width="10.50" height="2.55" fill="#f7901f"/>
<rect x="402.70" y="143.0" width="10.50" height="2.55" fill="#f7901f"/>
<rect x="413.15" y="143.0" width="10.50" height="2.55" fill="#ee4a2a"/>
<rect x="360.90" y="145.5" width="10.50" height="5.05" fill="#f7901f"/>
<rect x="371.35" y="145.5" width="10.50" height="5.05" fill="#e8282c"/>
<rect x="381.80" y="145.5" width="10.50" height="5.05" fill="#fbb81a"/>
<rect x="392.25" y="145.5" width="10.50" height="5.05" fill="#f7901f"/>
<rect x="402.70" y="145.5" width="10.50" height="5.05" fill="#f7901f"/>
<rect x="413.15" y="145.5" width="10.50" height="5.05" fill="#f7901f"/>
<rect x="360.90" y="150.5" width="10.50" height="3.15" fill="#f9ad62"/>
<rect x="371.35" y="150.5" width="10.50" height="3.15" fill="#e8282c"/>
<rect x="381.80" y="150.5" width="10.50" height="3.15" fill="#fde512"/>
<rect x="392.25" y="150.5" width="10.50" height="3.15" fill="#f7901f"/>
<rect x="402.70" y="150.5" width="10.50" height="3.15" fill="#fbb81a"/>
<rect x="413.15" y="150.5" width="10.50" height="3.15" fill="#fde512"/>
<rect x="360.90" y="153.6" width="10.50" height="4.45" fill="#e8282c"/>
<rect x="371.35" y="153.6" width="10.50" height="4.45" fill="#e8282c"/>
<rect x="381.80" y="153.6" width="10.50" height="4.45" fill="#fbb81a"/>
<rect x="392.25" y="153.6" width="10.50" height="4.45" fill="#f7901f"/>
<rect x="402.70" y="153.6" width="10.50" height="4.45" fill="#f7901f"/>
<rect x="413.15" y="153.6" width="10.50" height="4.45" fill="#fde512"/>
<rect x="360.90" y="158.0" width="10.50" height="5.05" fill="#e8282c"/>
<rect x="371.35" y="158.0" width="10.50" height="5.05" fill="#e8282c"/>
<rect x="381.80" y="158.0" width="10.50" height="5.05" fill="#f7901f"/>
<rect x="392.25" y="158.0" width="10.50" height="5.05" fill="#f7901f"/>
<rect x="402.70" y="158.0" width="10.50" height="5.05" fill="#ee4a2a"/>
<rect x="413.15" y="158.0" width="10.50" height="5.05" fill="#fde512"/>
<rect x="360.90" y="163.0" width="10.50" height="3.05" fill="#e8282c"/>
<rect x="371.35" y="163.0" width="10.50" height="3.05" fill="#e8282c"/>
<rect x="381.80" y="163.0" width="10.50" height="3.05" fill="#f7901f"/>
<rect x="392.25" y="163.0" width="10.50" height="3.05" fill="#f7901f"/>
<rect x="402.70" y="163.0" width="10.50" height="3.05" fill="#f7901f"/>
<rect x="413.15" y="163.0" width="10.50" height="3.05" fill="#fbb81a"/>
<rect x="360.90" y="166.0" width="10.50" height="2.55" fill="#e8282c"/>
<rect x="371.35" y="166.0" width="10.50" height="2.55" fill="#ee4a2a"/>
<rect x="381.80" y="166.0" width="10.50" height="2.55" fill="#fbb81a"/>
<rect x="392.25" y="166.0" width="10.50" height="2.55" fill="#fbb81a"/>
<rect x="402.70" y="166.0" width="10.50" height="2.55" fill="#f7901f"/>
<rect x="413.15" y="166.0" width="10.50" height="2.55" fill="#fde512"/>
<rect x="360.90" y="168.5" width="10.50" height="3.85" fill="#e8282c"/>
<rect x="371.35" y="168.5" width="10.50" height="3.85" fill="#ee4a2a"/>
<rect x="381.80" y="168.5" width="10.50" height="3.85" fill="#fbb81a"/>
<rect x="392.25" y="168.5" width="10.50" height="3.85" fill="#a8b060"/>
<rect x="402.70" y="168.5" width="10.50" height="3.85" fill="#f7901f"/>
<rect x="413.15" y="168.5" width="10.50" height="3.85" fill="#c8c058"/>
<rect x="360.90" y="172.3" width="10.50" height="3.15" fill="#ee5058"/>
<rect x="371.35" y="172.3" width="10.50" height="3.15" fill="#f7901f"/>
<rect x="381.80" y="172.3" width="10.50" height="3.15" fill="#f7901f"/>
<rect x="392.25" y="172.3" width="10.50" height="3.15" fill="#f7901f"/>
<rect x="402.70" y="172.3" width="10.50" height="3.15" fill="#ee4a2a"/>
<rect x="413.15" y="172.3" width="10.50" height="3.15" fill="#f7901f"/>
<rect x="360.90" y="175.4" width="10.50" height="1.95" fill="#fbe3c4"/>
<rect x="371.35" y="175.4" width="10.50" height="1.95" fill="#fbe3c4"/>
<rect x="381.80" y="175.4" width="10.50" height="1.95" fill="#fbe3c4"/>
<rect x="392.25" y="175.4" width="10.50" height="1.95" fill="#fbe3c4"/>
<rect x="402.70" y="175.4" width="10.50" height="1.95" fill="#fbe3c4"/>
<rect x="413.15" y="175.4" width="10.50" height="1.95" fill="#fbe3c4"/>
<rect x="360.90" y="177.3" width="10.50" height="2.55" fill="#fbb81a"/>
<rect x="371.35" y="177.3" width="10.50" height="2.55" fill="#f9ad62"/>
<rect x="381.80" y="177.3" width="10.50" height="2.55" fill="#f7901f"/>
<rect x="392.25" y="177.3" width="10.50" height="2.55" fill="#ee5058"/>
<rect x="402.70" y="177.3" width="10.50" height="2.55" fill="#fbb81a"/>
<rect x="413.15" y="177.3" width="10.50" height="2.55" fill="#f9ad62"/>
<rect x="360.90" y="179.8" width="10.50" height="3.15" fill="#fbb81a"/>
<rect x="371.35" y="179.8" width="10.50" height="3.15" fill="#f7901f"/>
<rect x="381.80" y="179.8" width="10.50" height="3.15" fill="#f9ad62"/>
<rect x="392.25" y="179.8" width="10.50" height="3.15" fill="#f37f7a"/>
<rect x="402.70" y="179.8" width="10.50" height="3.15" fill="#fbb81a"/>
<rect x="413.15" y="179.8" width="10.50" height="3.15" fill="#f9ad62"/>
<rect x="360.90" y="182.9" width="10.50" height="3.15" fill="#f9ad62"/>
<rect x="371.35" y="182.9" width="10.50" height="3.15" fill="#fbe3c4"/>
<rect x="381.80" y="182.9" width="10.50" height="3.15" fill="#f37f7a"/>
<rect x="392.25" y="182.9" width="10.50" height="3.15" fill="#f37f7a"/>
<rect x="402.70" y="182.9" width="10.50" height="3.15" fill="#fbe3c4"/>
<rect x="413.15" y="182.9" width="10.50" height="3.15" fill="#fbe3c4"/>
<rect x="360.90" y="186.0" width="10.50" height="3.15" fill="#f7901f"/>
<rect x="371.35" y="186.0" width="10.50" height="3.15" fill="#f37f7a"/>
<rect x="381.80" y="186.0" width="10.50" height="3.15" fill="#ee5058"/>
<rect x="392.25" y="186.0" width="10.50" height="3.15" fill="#f6a8a0"/>
<rect x="402.70" y="186.0" width="10.50" height="3.15" fill="#f7901f"/>
<rect x="413.15" y="186.0" width="10.50" height="3.15" fill="#f9ad62"/>
<rect x="360.90" y="189.1" width="10.50" height="2.55" fill="#fbe3c4"/>
<rect x="371.35" y="189.1" width="10.50" height="2.55" fill="#f9c6bd"/>
<rect x="381.80" y="189.1" width="10.50" height="2.55" fill="#fbe3c4"/>
<rect x="392.25" y="189.1" width="10.50" height="2.55" fill="#fbe3c4"/>
<rect x="402.70" y="189.1" width="10.50" height="2.55" fill="#fbe3c4"/>
<rect x="413.15" y="189.1" width="10.50" height="2.55" fill="#fbe3c4"/>
<rect x="360.90" y="191.6" width="10.50" height="1.95" fill="#fbb81a"/>
<rect x="371.35" y="191.6" width="10.50" height="1.95" fill="#e8282c"/>
<rect x="381.80" y="191.6" width="10.50" height="1.95" fill="#f7901f"/>
<rect x="392.25" y="191.6" width="10.50" height="1.95" fill="#e8282c"/>
<rect x="402.70" y="191.6" width="10.50" height="1.95" fill="#f7901f"/>
<rect x="413.15" y="191.6" width="10.50" height="1.95" fill="#e8282c"/>
<rect x="360.90" y="193.5" width="10.50" height="5.45" fill="#f7901f"/>
<rect x="371.35" y="193.5" width="10.50" height="5.45" fill="#e8282c"/>
<rect x="381.80" y="193.5" width="10.50" height="5.45" fill="#f7901f"/>
<rect x="392.25" y="193.5" width="10.50" height="5.45" fill="#e8282c"/>
<rect x="402.70" y="193.5" width="10.50" height="5.45" fill="#f7901f"/>
<rect x="413.15" y="193.5" width="10.50" height="5.45" fill="#e8282c"/>
<rect x="360.90" y="198.9" width="10.50" height="2.55" fill="#f9ad62"/>
<rect x="371.35" y="198.9" width="10.50" height="2.55" fill="#ee5058"/>
<rect x="381.80" y="198.9" width="10.50" height="2.55" fill="#fbb81a"/>
<rect x="392.25" y="198.9" width="10.50" height="2.55" fill="#f9ad62"/>
<rect x="402.70" y="198.9" width="10.50" height="2.55" fill="#fbb81a"/>
<rect x="413.15" y="198.9" width="10.50" height="2.55" fill="#f9ad62"/>
<rect x="360.90" y="201.4" width="10.50" height="4.45" fill="#f9ad62"/>
<rect x="371.35" y="201.4" width="10.50" height="4.45" fill="#ee5058"/>
<rect x="381.80" y="201.4" width="10.50" height="4.45" fill="#fbb81a"/>
<rect x="392.25" y="201.4" width="10.50" height="4.45" fill="#f37f7a"/>
<rect x="402.70" y="201.4" width="10.50" height="4.45" fill="#fde512"/>
<rect x="413.15" y="201.4" width="10.50" height="4.45" fill="#f9ad62"/>
<rect x="360.90" y="205.8" width="10.50" height="2.55" fill="#fcf0a8"/>
<rect x="371.35" y="205.8" width="10.50" height="2.55" fill="#f6a8a0"/>
<rect x="381.80" y="205.8" width="10.50" height="2.55" fill="#fde512"/>
<rect x="392.25" y="205.8" width="10.50" height="2.55" fill="#f6a8a0"/>
<rect x="402.70" y="205.8" width="10.50" height="2.55" fill="#fde512"/>
<rect x="413.15" y="205.8" width="10.50" height="2.55" fill="#fbc48e"/>
<rect x="360.90" y="208.3" width="10.50" height="2.55" fill="#fbb81a"/>
<rect x="371.35" y="208.3" width="10.50" height="2.55" fill="#f37f7a"/>
<rect x="381.80" y="208.3" width="10.50" height="2.55" fill="#fde512"/>
<rect x="392.25" y="208.3" width="10.50" height="2.55" fill="#f9ad62"/>
<rect x="402.70" y="208.3" width="10.50" height="2.55" fill="#c8c058"/>
<rect x="413.15" y="208.3" width="10.50" height="2.55" fill="#f7901f"/>
<rect x="360.90" y="210.8" width="10.50" height="1.85" fill="#7078a8"/>
<rect x="371.35" y="210.8" width="10.50" height="1.85" fill="#e8282c"/>
<rect x="381.80" y="210.8" width="10.50" height="1.85" fill="#f7901f"/>
<rect x="392.25" y="210.8" width="10.50" height="1.85" fill="#ee4a2a"/>
<rect x="402.70" y="210.8" width="10.50" height="1.85" fill="#fde512"/>
<rect x="413.15" y="210.8" width="10.50" height="1.85" fill="#f7901f"/>
<rect x="360.90" y="212.6" width="10.50" height="3.25" fill="#7078a8"/>
<rect x="371.35" y="212.6" width="10.50" height="3.25" fill="#e8282c"/>
<rect x="381.80" y="212.6" width="10.50" height="3.25" fill="#3c4ca4"/>
<rect x="392.25" y="212.6" width="10.50" height="3.25" fill="#f7901f"/>
<rect x="402.70" y="212.6" width="10.50" height="3.25" fill="#c8c058"/>
<rect x="413.15" y="212.6" width="10.50" height="3.25" fill="#f7901f"/>
<rect x="360.90" y="215.8" width="10.50" height="1.45" fill="#3c4ca4"/>
<rect x="371.35" y="215.8" width="10.50" height="1.45" fill="#e8282c"/>
<rect x="381.80" y="215.8" width="10.50" height="1.45" fill="#3c4ca4"/>
<rect x="392.25" y="215.8" width="10.50" height="1.45" fill="#f7901f"/>
<rect x="402.70" y="215.8" width="10.50" height="1.45" fill="#f7901f"/>
<rect x="413.15" y="215.8" width="10.50" height="1.45" fill="#f7901f"/>
<path d="M340.0,4.5H333.7V6.6H340.0 M340.0,2.4H333.2V5.6H333.7 M340.0,10.9H334.3V13.0H340.0 M340.0,8.8H333.2V11.9H334.3 M333.2,4.0H331.2V10.3H333.2 M340.0,15.1H333.4V17.2H340.0 M340.0,19.4H332.4V21.5H340.0 M340.0,23.6H333.1V25.7H340.0 M332.4,20.4H331.9V24.7H333.1 M340.0,30.0H332.7V32.1H340.0 M340.0,34.2H334.0V36.3H340.0 M332.7,31.0H332.2V35.3H334.0 M340.0,27.8H331.3V33.1H332.2 M340.0,38.4H333.0V40.6H340.0 M331.3,30.5H330.8V39.5H333.0 M340.0,42.7H332.9V44.8H340.0 M330.8,35.0H329.2V43.7H332.9 M331.9,22.5H328.6V39.4H329.2 M340.0,46.9H334.3V49.0H340.0 M340.0,51.2H334.4V53.3H340.0 M334.3,48.0H331.6V52.2H334.4 M340.0,57.5H333.4V59.6H340.0 M340.0,55.4H331.9V58.6H333.4 M340.0,63.9H333.9V66.0H340.0 M340.0,61.8H332.3V64.9H333.9 M332.3,63.3H331.8V68.1H340.0 M331.9,57.0H329.8V65.7H331.8 M340.0,70.2H332.3V72.4H340.0 M340.0,74.5H332.7V76.6H340.0 M332.3,71.3H331.1V75.5H332.7 M329.8,61.4H329.1V73.4H331.1 M340.0,80.8H333.1V83.0H340.0 M340.0,78.7H332.6V81.9H333.1 M340.0,85.1H332.7V87.2H340.0 M340.0,89.3H334.1V91.4H340.0 M332.7,86.1H332.2V90.4H334.1 M340.0,93.6H332.8V95.7H340.0 M340.0,97.8H332.8V99.9H340.0 M340.0,102.0H333.0V104.2H340.0 M332.8,98.9H330.3V103.1H333.0 M340.0,108.4H333.4V110.5H340.0 M340.0,106.3H331.9V109.5H333.4 M330.3,101.0H329.4V107.9H331.9 M332.8,94.6H328.9V104.4H329.4 M340.0,112.6H332.4V114.8H340.0 M340.0,119.0H332.0V121.1H340.0 M340.0,123.2H332.4V125.4H340.0 M332.0,120.1H330.7V124.3H332.4 M340.0,116.9H330.2V122.2H330.7 M340.0,129.6H334.4V131.7H340.0 M340.0,127.5H331.7V130.7H334.4 M340.0,136.0H334.1V138.1H340.0 M340.0,133.8H332.2V137.0H334.1 M331.7,129.1H330.6V135.4H332.2 M330.2,119.5H328.6V132.3H330.6 M340.0,146.6H333.5V148.7H340.0 M340.0,144.4H332.7V147.6H333.5 M340.0,142.3H332.1V146.0H332.7 M340.0,140.2H331.6V144.2H332.1 M331.2,7.2H327.2V16.2H333.4 M327.2,11.7H326.4V31.0H328.6 M326.4,21.3H325.7V50.1H331.6 M325.7,35.7H324.9V67.4H329.1 M324.9,51.5H324.1V80.3H332.6 M324.1,65.9H323.3V88.3H332.2 M323.3,77.1H322.5V99.5H328.9 M322.5,88.3H321.8V113.7H332.4 M321.8,101.0H321.0V125.9H328.6 M321.0,113.4H320.2V142.2H331.6 M340.0,150.8H332.3V152.9H340.0 M340.0,155.0H332.5V157.2H340.0 M332.3,151.9H331.4V156.1H332.5 M340.0,161.4H333.8V163.5H340.0 M340.0,159.3H331.2V162.5H333.8 M340.0,167.8H334.1V169.9H340.0 M340.0,165.6H333.0V168.8H334.1 M333.0,167.2H330.3V172.0H340.0 M340.0,174.1H333.3V176.2H340.0 M340.0,182.6H333.8V184.7H340.0 M340.0,180.5H333.3V183.7H333.8 M340.0,178.4H331.3V182.1H333.3 M333.3,175.2H330.8V180.2H331.3 M330.3,169.6H328.8V177.7H330.8 M340.0,186.8H332.8V189.0H340.0 M340.0,191.1H334.4V193.2H340.0 M332.8,187.9H331.2V192.1H334.4 M340.0,195.3H332.3V197.4H340.0 M331.2,190.0H328.9V196.4H332.3 M340.0,199.6H333.5V201.7H340.0 M340.0,203.8H334.2V205.9H340.0 M333.5,200.6H330.5V204.9H334.2 M340.0,208.0H332.9V210.2H340.0 M330.5,202.7H329.4V209.1H332.9 M328.9,193.2H328.4V205.9H329.4 M340.0,212.3H334.3V214.4H340.0 M331.4,154.0H325.9V160.9H331.2 M325.9,157.4H324.2V173.7H328.8 M324.2,165.5H322.6V199.6H328.4 M322.6,182.6H321.0V213.3H334.3 M320.2,127.8H318.4V197.9H321.0" fill="none" stroke="#72c260" stroke-width="0.85"/>
<text x="345.625" y="225.9" font-size="5.4" font-weight="bold" font-style="normal" text-anchor="middle" fill="#231f20" stroke="#231f20" stroke-width="0.25" >P1</text>
<text x="356.075" y="225.9" font-size="5.4" font-weight="bold" font-style="normal" text-anchor="middle" fill="#231f20" stroke="#231f20" stroke-width="0.25" >P2</text>
<text x="366.525" y="225.9" font-size="5.4" font-weight="bold" font-style="normal" text-anchor="middle" fill="#231f20" stroke="#231f20" stroke-width="0.25" >T1</text>
<text x="376.97499999999997" y="225.9" font-size="5.4" font-weight="bold" font-style="normal" text-anchor="middle" fill="#231f20" stroke="#231f20" stroke-width="0.25" >T1A</text>
<text x="387.425" y="225.9" font-size="5.4" font-weight="bold" font-style="normal" text-anchor="middle" fill="#231f20" stroke="#231f20" stroke-width="0.25" >T2</text>
<text x="397.875" y="225.9" font-size="5.4" font-weight="bold" font-style="normal" text-anchor="middle" fill="#231f20" stroke="#231f20" stroke-width="0.25" >T2A</text>
<text x="408.325" y="225.9" font-size="5.4" font-weight="bold" font-style="normal" text-anchor="middle" fill="#231f20" stroke="#231f20" stroke-width="0.25" >T3</text>
<text x="418.775" y="225.9" font-size="5.4" font-weight="bold" font-style="normal" text-anchor="middle" fill="#231f20" stroke="#231f20" stroke-width="0.25" >T3A</text>
<line x1="425.4" y1="14.7" x2="429.3" y2="14.7" stroke="#231f20" stroke-width="1.1" />
<text x="431.0" y="16.8" font-size="5.7" font-weight="bold" font-style="italic" text-anchor="start" fill="#231f20" stroke="#231f20" stroke-width="0.25" >Rab27a</text>
<line x1="425.4" y1="31.3" x2="429.3" y2="31.3" stroke="#231f20" stroke-width="1.1" />
<text x="431.0" y="33.4" font-size="5.7" font-weight="bold" font-style="italic" text-anchor="start" fill="#231f20" stroke="#231f20" stroke-width="0.25" >Tyrobp</text>
<line x1="425.4" y1="38.0" x2="429.3" y2="38.0" stroke="#231f20" stroke-width="1.1" />
<text x="431.0" y="40.1" font-size="5.7" font-weight="bold" font-style="italic" text-anchor="start" fill="#231f20" stroke="#231f20" stroke-width="0.25" >Gab1</text>
<line x1="425.4" y1="50.7" x2="429.3" y2="50.7" stroke="#231f20" stroke-width="1.1" />
<text x="431.0" y="52.800000000000004" font-size="5.7" font-weight="bold" font-style="normal" text-anchor="start" fill="#231f20" stroke="#231f20" stroke-width="0.25" >Lck</text>
<line x1="425.4" y1="164.3" x2="429.3" y2="164.3" stroke="#231f20" stroke-width="1.1" />
<text x="431.0" y="166.4" font-size="5.7" font-weight="bold" font-style="italic" text-anchor="start" fill="#231f20" stroke="#231f20" stroke-width="0.25" >Ccl9</text>
<line x1="425.4" y1="178.0" x2="429.3" y2="178.0" stroke="#231f20" stroke-width="1.1" />
<text x="431.0" y="180.1" font-size="5.7" font-weight="bold" font-style="italic" text-anchor="start" fill="#231f20" stroke="#231f20" stroke-width="0.25" >Rasgrp2</text>
<defs><linearGradient id="cb" x1="0" y1="0" x2="0" y2="1">
<stop offset="0" stop-color="#ec2636"/>
<stop offset="0.05" stop-color="#ec2a36"/>
<stop offset="0.11" stop-color="#ee3c34"/>
<stop offset="0.18" stop-color="#f05a2e"/>
<stop offset="0.27" stop-color="#f37a28"/>
<stop offset="0.34" stop-color="#f6a020"/>
<stop offset="0.40" stop-color="#f9c418"/>
<stop offset="0.50" stop-color="#fff000"/>
<stop offset="0.60" stop-color="#e4dc34"/>
<stop offset="0.69" stop-color="#bcb672"/>
<stop offset="0.75" stop-color="#a8a89a"/>
<stop offset="0.80" stop-color="#9494b8"/>
<stop offset="0.88" stop-color="#6a76bc"/>
<stop offset="1" stop-color="#3a4cae"/>
</linearGradient>
<linearGradient id="cbh" x1="0" y1="0" x2="1" y2="0">
<stop offset="0" stop-color="#fff" stop-opacity="0.45"/>
<stop offset="0.35" stop-color="#fff" stop-opacity="0"/>
<stop offset="0.9" stop-color="#000" stop-opacity="0"/>
<stop offset="1" stop-color="#000" stop-opacity="0.12"/>
</linearGradient></defs>
<rect x="470.2" y="6" width="10.8" height="205.6" fill="url(#cb)"/>
<rect x="470.2" y="6" width="10.8" height="205.6" fill="url(#cbh)"/>
<text x="484.8" y="18.5" font-size="5.6" font-weight="bold" font-style="normal" text-anchor="start" fill="#333" stroke="#333" stroke-width="0.25" >5.0</text>
<text x="484.8" y="30.1" font-size="5.6" font-weight="bold" font-style="normal" text-anchor="start" fill="#333" stroke="#333" stroke-width="0.25" >4.0</text>
<text x="484.8" y="45.3" font-size="5.6" font-weight="bold" font-style="normal" text-anchor="start" fill="#333" stroke="#333" stroke-width="0.25" >3.0</text>
<text x="484.8" y="54.1" font-size="5.6" font-weight="bold" font-style="normal" text-anchor="start" fill="#333" stroke="#333" stroke-width="0.25" >2.5</text>
<text x="484.8" y="64.2" font-size="5.6" font-weight="bold" font-style="normal" text-anchor="start" fill="#333" stroke="#333" stroke-width="0.25" >2.0</text>
<text x="484.8" y="77.8" font-size="5.6" font-weight="bold" font-style="normal" text-anchor="start" fill="#333" stroke="#333" stroke-width="0.25" >1.5</text>
<text x="484.8" y="89.9" font-size="5.6" font-weight="bold" font-style="normal" text-anchor="start" fill="#333" stroke="#333" stroke-width="0.25" >1.2</text>
<text x="484.8" y="110.4" font-size="5.6" font-weight="bold" font-style="normal" text-anchor="start" fill="#333" stroke="#333" stroke-width="0.25" >1.0</text>
<text x="484.8" y="121.0" font-size="5.6" font-weight="bold" font-style="normal" text-anchor="start" fill="#333" stroke="#333" stroke-width="0.25" >0.9</text>
<text x="484.8" y="131.4" font-size="5.6" font-weight="bold" font-style="normal" text-anchor="start" fill="#333" stroke="#333" stroke-width="0.25" >0.8</text>
<text x="484.8" y="141.5" font-size="5.6" font-weight="bold" font-style="normal" text-anchor="start" fill="#333" stroke="#333" stroke-width="0.25" >0.7</text>
<text x="484.8" y="151.9" font-size="5.6" font-weight="bold" font-style="normal" text-anchor="start" fill="#333" stroke="#333" stroke-width="0.25" >0.6</text>
<text x="484.8" y="162.3" font-size="5.6" font-weight="bold" font-style="normal" text-anchor="start" fill="#333" stroke="#333" stroke-width="0.25" >0.5</text>
<text x="484.8" y="172.4" font-size="5.6" font-weight="bold" font-style="normal" text-anchor="start" fill="#333" stroke="#333" stroke-width="0.25" >0.4</text>
<text x="484.8" y="182.8" font-size="5.6" font-weight="bold" font-style="normal" text-anchor="start" fill="#333" stroke="#333" stroke-width="0.25" >0.3</text>
<text x="484.8" y="193.2" font-size="5.6" font-weight="bold" font-style="normal" text-anchor="start" fill="#333" stroke="#333" stroke-width="0.25" >0.2</text>
<text x="484.8" y="203.6" font-size="5.6" font-weight="bold" font-style="normal" text-anchor="start" fill="#333" stroke="#333" stroke-width="0.25" >0.1</text>
<text x="484.8" y="212.6" font-size="5.6" font-weight="bold" font-style="normal" text-anchor="start" fill="#333" stroke="#333" stroke-width="0.25" >0.0</text>
<text x="0" y="0" font-size="6.1" font-weight="normal" font-style="normal" text-anchor="middle" fill="#222" stroke="#222" stroke-width="0.25" transform="translate(465.4,114.8) rotate(-90)">Expression</text>
<text x="475.3" y="218.2" font-size="5.3" font-weight="bold" font-style="normal" text-anchor="middle" fill="#333" stroke="#333" stroke-width="0.25" >Trust</text>
<text x="1.6" y="247.6" font-size="11" font-weight="bold" font-style="normal" text-anchor="start" fill="#231f20" stroke="#231f20" stroke-width="0.25" >C</text>
<defs><clipPath id="c1"><circle cx="31.1" cy="280.0" r="31.1"/></clipPath></defs>
<circle cx="31.1" cy="280.0" r="31.1" fill="#f89b26"/>
<circle cx="61.6" cy="280.0" r="31.1" fill="#ffd008"/>
<circle cx="46.6" cy="307.4" r="31.1" fill="#d9eff7"/>
<circle cx="31.1" cy="280.0" r="31.1" fill="none" stroke="#2b2a29" stroke-width="1.3"/>
<circle cx="61.6" cy="280.0" r="31.1" fill="none" stroke="#2b2a29" stroke-width="1.3"/>
<circle cx="46.6" cy="307.4" r="31.1" fill="none" stroke="#2b2a29" stroke-width="1.3"/>
<text x="13.4" y="282.0" font-size="9.5" font-weight="normal" font-style="normal" text-anchor="middle" fill="#2e2010" stroke="#2e2010" stroke-width="0.25" >T1</text>
<text x="80.6" y="282.3" font-size="9.5" font-weight="normal" font-style="normal" text-anchor="middle" fill="#2e2010" stroke="#2e2010" stroke-width="0.25" >T2</text>
<text x="46.9" y="331.6" font-size="9.5" font-weight="normal" font-style="normal" text-anchor="middle" fill="#23343a" stroke="#23343a" stroke-width="0.25" >T3</text>
<text x="47.3" y="292.8" font-size="9.2" font-weight="bold" font-style="normal" text-anchor="middle" fill="#d33a4a" stroke="#d33a4a" stroke-width="0.25" >76</text>
<text x="24.7" y="271.1" font-size="5.8" font-weight="bold" font-style="normal" text-anchor="middle" fill="#222" stroke="#222" stroke-width="0.25" >9</text>
<text x="46.9" y="271.1" font-size="5.8" font-weight="bold" font-style="normal" text-anchor="middle" fill="#222" stroke="#222" stroke-width="0.25" >3</text>
<text x="70.9" y="270.9" font-size="5.8" font-weight="bold" font-style="normal" text-anchor="middle" fill="#222" stroke="#222" stroke-width="0.25" >1</text>
<text x="31.9" y="301.9" font-size="5.8" font-weight="bold" font-style="normal" text-anchor="middle" fill="#222" stroke="#222" stroke-width="0.25" >13</text>
<text x="67.3" y="301.9" font-size="5.8" font-weight="bold" font-style="normal" text-anchor="middle" fill="#222" stroke="#222" stroke-width="0.25" >13</text>
<text x="47.3" y="317.9" font-size="5.8" font-weight="bold" font-style="normal" text-anchor="middle" fill="#222" stroke="#222" stroke-width="0.25" >5</text>
<text x="107.0" y="247.8" font-size="11" font-weight="bold" font-style="normal" text-anchor="start" fill="#231f20" stroke="#231f20" stroke-width="0.25" >D</text>
<line x1="117.0" y1="262.3" x2="520" y2="262.3" stroke="#231f20" stroke-width="1.2" />
<text x="117.5" y="259.5" font-size="7.0" font-weight="bold" font-style="normal" text-anchor="start" fill="#231f20" stroke="#231f20" stroke-width="0.25" >Probe ID</text>
<text x="173.4" y="259.5" font-size="7.0" font-weight="bold" font-style="normal" text-anchor="start" fill="#231f20" stroke="#231f20" stroke-width="0.25" >FoldChange</text>
<text x="223.0" y="259.5" font-size="7.0" font-weight="bold" font-style="normal" text-anchor="start" fill="#231f20" stroke="#231f20" stroke-width="0.25" >Common</text>
<text x="268.8" y="259.5" font-size="7.0" font-weight="bold" font-style="normal" text-anchor="start" fill="#231f20" stroke="#231f20" stroke-width="0.25" >Genbank</text>
<text x="320.0" y="259.5" font-size="7.0" font-weight="bold" font-style="normal" text-anchor="start" fill="#231f20" stroke="#231f20" stroke-width="0.25" >Description</text>
<text x="117.5" y="270.9" font-size="7.0" font-weight="bold" font-style="normal" text-anchor="start" fill="#231f20" stroke="#231f20" stroke-width="0.25" >1417694_at</text>
<text x="173.4" y="270.9" font-size="7.0" font-weight="bold" font-style="normal" text-anchor="start" fill="#231f20" stroke="#231f20" stroke-width="0.25" >7.4465508</text>
<text x="223.0" y="270.9" font-size="7.0" font-weight="bold" font-style="normal" text-anchor="start" fill="#231f20" stroke="#231f20" stroke-width="0.25" >Gab1</text>
<text x="268.8" y="270.9" font-size="7.0" font-weight="bold" font-style="normal" text-anchor="start" fill="#231f20" stroke="#231f20" stroke-width="0.25" >BC007483</text>
<text x="320.0" y="270.9" font-size="7.0" font-weight="bold" font-style="normal" text-anchor="start" fill="#231f20" stroke="#231f20" stroke-width="0.25" >growth factor receptor bound protein 2-associated protein 1</text>
<text x="117.5" y="282.08" font-size="7.0" font-weight="bold" font-style="normal" text-anchor="start" fill="#231f20" stroke="#231f20" stroke-width="0.25" >1425396_a_at</text>
<text x="173.4" y="282.08" font-size="7.0" font-weight="bold" font-style="normal" text-anchor="start" fill="#231f20" stroke="#231f20" stroke-width="0.25" >4.5042890</text>
<text x="223.0" y="282.08" font-size="7.0" font-weight="bold" font-style="normal" text-anchor="start" fill="#231f20" stroke="#231f20" stroke-width="0.25" >Lck</text>
<text x="268.8" y="282.08" font-size="7.0" font-weight="bold" font-style="normal" text-anchor="start" fill="#231f20" stroke="#231f20" stroke-width="0.25" >BC011474</text>
<text x="320.0" y="282.08" font-size="7.0" font-weight="bold" font-style="normal" text-anchor="start" fill="#231f20" stroke="#231f20" stroke-width="0.25" >lymphocyte protein tyrosine kinase</text>
<text x="117.5" y="293.26" font-size="7.0" font-weight="bold" font-style="normal" text-anchor="start" fill="#231f20" stroke="#231f20" stroke-width="0.25" >1417804_at</text>
<text x="173.4" y="293.26" font-size="7.0" font-weight="bold" font-style="normal" text-anchor="start" fill="#231f20" stroke="#231f20" stroke-width="0.25" >4.0573333</text>
<text x="223.0" y="293.26" font-size="7.0" font-weight="bold" font-style="normal" text-anchor="start" fill="#231f20" stroke="#231f20" stroke-width="0.25" >Rasgrp2</text>
<text x="268.8" y="293.26" font-size="7.0" font-weight="bold" font-style="normal" text-anchor="start" fill="#231f20" stroke="#231f20" stroke-width="0.25" >NM_011242</text>
<text x="320.0" y="293.26" font-size="7.0" font-weight="bold" font-style="normal" text-anchor="start" fill="#231f20" stroke="#231f20" stroke-width="0.25" >RAS, guanyl releasing protein 2</text>
<text x="117.5" y="304.44" font-size="7.0" font-weight="bold" font-style="normal" text-anchor="start" fill="#231f20" stroke="#231f20" stroke-width="0.25" >1450792_at</text>
<text x="173.4" y="304.44" font-size="7.0" font-weight="bold" font-style="normal" text-anchor="start" fill="#231f20" stroke="#231f20" stroke-width="0.25" >3.3921541</text>
<text x="223.0" y="304.44" font-size="7.0" font-weight="bold" font-style="normal" text-anchor="start" fill="#231f20" stroke="#231f20" stroke-width="0.25" >Tyrobp</text>
<text x="268.8" y="304.44" font-size="7.0" font-weight="bold" font-style="normal" text-anchor="start" fill="#231f20" stroke="#231f20" stroke-width="0.25" >NM_011662</text>
<text x="320.0" y="304.44" font-size="7.0" font-weight="bold" font-style="normal" text-anchor="start" fill="#231f20" stroke="#231f20" stroke-width="0.25" >TYRO protein tyrosine kinase binding protein, DAP12</text>
<text x="117.5" y="315.62" font-size="7.0" font-weight="bold" font-style="normal" text-anchor="start" fill="#231f20" stroke="#231f20" stroke-width="0.25" >1448898_at</text>
<text x="173.4" y="315.62" font-size="7.0" font-weight="bold" font-style="normal" text-anchor="start" fill="#231f20" stroke="#231f20" stroke-width="0.25" >3.1721165</text>
<text x="223.0" y="315.62" font-size="7.0" font-weight="bold" font-style="normal" text-anchor="start" fill="#231f20" stroke="#231f20" stroke-width="0.25" >Ccl9</text>
<text x="268.8" y="315.62" font-size="7.0" font-weight="bold" font-style="normal" text-anchor="start" fill="#231f20" stroke="#231f20" stroke-width="0.25" >AF128196</text>
<text x="320.0" y="315.62" font-size="7.0" font-weight="bold" font-style="normal" text-anchor="start" fill="#231f20" stroke="#231f20" stroke-width="0.25" >chemokine (C-C motif) ligand 9, MIP-1<tspan font-size="5.8" font-weight="normal" stroke-width="0" dy="1">&#947;</tspan></text>
<text x="117.5" y="326.79999999999995" font-size="7.0" font-weight="bold" font-style="normal" text-anchor="start" fill="#231f20" stroke="#231f20" stroke-width="0.25" >1425284_a_at</text>
<text x="173.4" y="326.79999999999995" font-size="7.0" font-weight="bold" font-style="normal" text-anchor="start" fill="#231f20" stroke="#231f20" stroke-width="0.25" >3.0140486</text>
<text x="223.0" y="326.79999999999995" font-size="7.0" font-weight="bold" font-style="normal" text-anchor="start" fill="#231f20" stroke="#231f20" stroke-width="0.25" >Rab27a</text>
<text x="268.8" y="326.79999999999995" font-size="7.0" font-weight="bold" font-style="normal" text-anchor="start" fill="#231f20" stroke="#231f20" stroke-width="0.25" >BC009656</text>
<text x="320.0" y="326.79999999999995" font-size="7.0" font-weight="bold" font-style="normal" text-anchor="start" fill="#231f20" stroke="#231f20" stroke-width="0.25" >RAB27A, member RAS oncogene family</text>
<text x="1.6" y="360.4" font-size="10.5" font-weight="bold" font-style="normal" text-anchor="start" fill="#231f20" stroke="#231f20" stroke-width="0.25" >E</text>
<line x1="46.5" y1="376.4" x2="152.2" y2="376.4" stroke="#d4d4d4" stroke-width="0.9" />
<line x1="46.5" y1="385.98499999999996" x2="152.2" y2="385.98499999999996" stroke="#d4d4d4" stroke-width="0.9" />
<line x1="46.5" y1="395.57" x2="152.2" y2="395.57" stroke="#d4d4d4" stroke-width="0.9" />
<line x1="46.5" y1="405.155" x2="152.2" y2="405.155" stroke="#d4d4d4" stroke-width="0.9" />
<line x1="46.5" y1="414.74" x2="152.2" y2="414.74" stroke="#d4d4d4" stroke-width="0.9" />
<line x1="46.5" y1="424.325" x2="152.2" y2="424.325" stroke="#d4d4d4" stroke-width="0.9" />
<line x1="46.5" y1="433.90999999999997" x2="152.2" y2="433.90999999999997" stroke="#d4d4d4" stroke-width="0.9" />
<line x1="46.5" y1="443.495" x2="152.2" y2="443.495" stroke="#d4d4d4" stroke-width="0.9" />
<line x1="46.5" y1="453.08" x2="152.2" y2="453.08" stroke="#d4d4d4" stroke-width="0.9" />
<line x1="46.5" y1="462.66499999999996" x2="152.2" y2="462.66499999999996" stroke="#d4d4d4" stroke-width="0.9" />
<line x1="46.5" y1="472.25" x2="152.2" y2="472.25" stroke="#d4d4d4" stroke-width="0.9" />
<line x1="46.5" y1="481.835" x2="152.2" y2="481.835" stroke="#d4d4d4" stroke-width="0.9" />
<line x1="46.5" y1="376.4" x2="46.5" y2="481.835" stroke="#c8c8c8" stroke-width="0.9" />
<line x1="152.2" y1="376.4" x2="152.2" y2="481.835" stroke="#d4d4d4" stroke-width="0.9" />
<line x1="99.35" y1="376.4" x2="99.35" y2="481.835" stroke="#c8c8c8" stroke-width="0.9" />
<text x="43.4" y="379.09999999999997" font-size="7.6" font-weight="bold" font-style="normal" text-anchor="end" fill="#231f20" stroke="#231f20" stroke-width="0.25" >2.0</text>
<text x="43.4" y="388.68499999999995" font-size="7.6" font-weight="bold" font-style="normal" text-anchor="end" fill="#231f20" stroke="#231f20" stroke-width="0.25" >1.5</text>
<text x="43.4" y="398.27" font-size="7.6" font-weight="bold" font-style="normal" text-anchor="end" fill="#231f20" stroke="#231f20" stroke-width="0.25" >1.0</text>
<text x="43.4" y="407.85499999999996" font-size="7.6" font-weight="bold" font-style="normal" text-anchor="end" fill="#231f20" stroke="#231f20" stroke-width="0.25" >0.5</text>
<text x="43.4" y="417.44" font-size="7.6" font-weight="bold" font-style="normal" text-anchor="end" fill="#231f20" stroke="#231f20" stroke-width="0.25" >0.0</text>
<text x="43.4" y="427.025" font-size="7.6" font-weight="bold" font-style="normal" text-anchor="end" fill="#231f20" stroke="#231f20" stroke-width="0.25" >-0.5</text>
<text x="43.4" y="436.60999999999996" font-size="7.6" font-weight="bold" font-style="normal" text-anchor="end" fill="#231f20" stroke="#231f20" stroke-width="0.25" >-1.0</text>
<text x="43.4" y="446.195" font-size="7.6" font-weight="bold" font-style="normal" text-anchor="end" fill="#231f20" stroke="#231f20" stroke-width="0.25" >-1.5</text>
<text x="43.4" y="455.78" font-size="7.6" font-weight="bold" font-style="normal" text-anchor="end" fill="#231f20" stroke="#231f20" stroke-width="0.25" >-2.0</text>
<text x="43.4" y="465.36499999999995" font-size="7.6" font-weight="bold" font-style="normal" text-anchor="end" fill="#231f20" stroke="#231f20" stroke-width="0.25" >-2.5</text>
<text x="43.4" y="474.95" font-size="7.6" font-weight="bold" font-style="normal" text-anchor="end" fill="#231f20" stroke="#231f20" stroke-width="0.25" >-3.0</text>
<text x="43.4" y="484.53499999999997" font-size="7.6" font-weight="bold" font-style="normal" text-anchor="end" fill="#231f20" stroke="#231f20" stroke-width="0.25" >-3.5</text>
<text x="0" y="0" font-size="8.3" font-weight="bold" font-style="normal" text-anchor="middle" fill="#231f20" stroke="#231f20" stroke-width="0.25" transform="translate(22.6,428.6) rotate(-90)">Normalized expression units</text>
<text x="96.8" y="369.5" font-size="9.0" font-weight="bold" font-style="italic" text-anchor="middle" fill="#231f20" stroke="#231f20" stroke-width="0.25" >Lck</text>
<line x1="73.1" y1="410.906" x2="73.1" y2="427.7756" stroke="#555" stroke-width="0.9" />
<line x1="73.1" y1="448.28749999999997" x2="73.1" y2="460.748" stroke="#555" stroke-width="0.9" />
<line x1="59.949999999999996" y1="410.906" x2="86.25" y2="410.906" stroke="#777" stroke-width="0.9" />
<line x1="59.949999999999996" y1="460.748" x2="86.25" y2="460.748" stroke="#777" stroke-width="0.9" />
<rect x="59.95" y="427.78" width="26.3" height="20.51" fill="#3c52ae" stroke="#141c5a" stroke-width="0.9"/>
<line x1="59.949999999999996" y1="439.0859" x2="86.25" y2="439.0859" stroke="#1a2266" stroke-width="1.0" />
<circle cx="73.1" cy="410.91" r="0.9" fill="#111"/>
<circle cx="73.1" cy="460.75" r="0.9" fill="#111"/>
<line x1="125.7" y1="391.736" x2="125.7" y2="411.0977" stroke="#555" stroke-width="0.9" />
<line x1="125.7" y1="444.8369" x2="125.7" y2="454.99699999999996" stroke="#555" stroke-width="0.9" />
<line x1="112.55" y1="391.736" x2="138.85" y2="391.736" stroke="#777" stroke-width="0.9" />
<line x1="112.55" y1="454.99699999999996" x2="138.85" y2="454.99699999999996" stroke="#777" stroke-width="0.9" />
<rect x="112.55" y="411.10" width="26.3" height="33.74" fill="#f01f26" stroke="#9a1a1e" stroke-width="0.9"/>
<line x1="112.55" y1="425.2835" x2="138.85" y2="425.2835" stroke="#7a0e10" stroke-width="1.0" />
<circle cx="125.7" cy="376.78" r="0.9" fill="#111"/>
<circle cx="125.7" cy="477.62" r="0.9" fill="#111"/>
<text x="73.8" y="491.3" font-size="7.5" font-weight="bold" font-style="normal" text-anchor="middle" fill="#231f20" stroke="#231f20" stroke-width="0.25" >Normal</text>
<text x="73.8" y="499.6" font-size="7.5" font-weight="bold" font-style="normal" text-anchor="middle" fill="#231f20" stroke="#231f20" stroke-width="0.25" >B-Cell</text>
<text x="126.0" y="496.3" font-size="7.5" font-weight="bold" font-style="normal" text-anchor="middle" fill="#231f20" stroke="#231f20" stroke-width="0.25" >DLBCL</text>
<line x1="223.2" y1="376.8" x2="330.8" y2="376.8" stroke="#d4d4d4" stroke-width="0.9" />
<line x1="223.2" y1="388.46000000000004" x2="330.8" y2="388.46000000000004" stroke="#d4d4d4" stroke-width="0.9" />
<line x1="223.2" y1="400.12" x2="330.8" y2="400.12" stroke="#d4d4d4" stroke-width="0.9" />
<line x1="223.2" y1="411.78000000000003" x2="330.8" y2="411.78000000000003" stroke="#d4d4d4" stroke-width="0.9" />
<line x1="223.2" y1="423.44" x2="330.8" y2="423.44" stroke="#d4d4d4" stroke-width="0.9" />
<line x1="223.2" y1="435.1" x2="330.8" y2="435.1" stroke="#d4d4d4" stroke-width="0.9" />
<line x1="223.2" y1="446.76" x2="330.8" y2="446.76" stroke="#d4d4d4" stroke-width="0.9" />
<line x1="223.2" y1="458.42" x2="330.8" y2="458.42" stroke="#d4d4d4" stroke-width="0.9" />
<line x1="223.2" y1="470.08000000000004" x2="330.8" y2="470.08000000000004" stroke="#d4d4d4" stroke-width="0.9" />
<line x1="223.2" y1="481.74" x2="330.8" y2="481.74" stroke="#d4d4d4" stroke-width="0.9" />
<line x1="223.2" y1="376.8" x2="223.2" y2="481.74" stroke="#c8c8c8" stroke-width="0.9" />
<line x1="330.8" y1="376.8" x2="330.8" y2="481.74" stroke="#d4d4d4" stroke-width="0.9" />
<line x1="277.0" y1="376.8" x2="277.0" y2="481.74" stroke="#c8c8c8" stroke-width="0.9" />
<text x="220.8" y="379.5" font-size="7.6" font-weight="bold" font-style="normal" text-anchor="end" fill="#231f20" stroke="#231f20" stroke-width="0.25" >2.0</text>
<text x="220.8" y="391.16" font-size="7.6" font-weight="bold" font-style="normal" text-anchor="end" fill="#231f20" stroke="#231f20" stroke-width="0.25" >1.5</text>
<text x="220.8" y="402.82" font-size="7.6" font-weight="bold" font-style="normal" text-anchor="end" fill="#231f20" stroke="#231f20" stroke-width="0.25" >1.0</text>
<text x="220.8" y="414.48" font-size="7.6" font-weight="bold" font-style="normal" text-anchor="end" fill="#231f20" stroke="#231f20" stroke-width="0.25" >0.5</text>
<text x="220.8" y="426.14" font-size="7.6" font-weight="bold" font-style="normal" text-anchor="end" fill="#231f20" stroke="#231f20" stroke-width="0.25" >0.0</text>
<text x="220.8" y="437.8" font-size="7.6" font-weight="bold" font-style="normal" text-anchor="end" fill="#231f20" stroke="#231f20" stroke-width="0.25" >-0.5</text>
<text x="220.8" y="449.46" font-size="7.6" font-weight="bold" font-style="normal" text-anchor="end" fill="#231f20" stroke="#231f20" stroke-width="0.25" >-1.0</text>
<text x="220.8" y="461.12" font-size="7.6" font-weight="bold" font-style="normal" text-anchor="end" fill="#231f20" stroke="#231f20" stroke-width="0.25" >-1.5</text>
<text x="220.8" y="472.78000000000003" font-size="7.6" font-weight="bold" font-style="normal" text-anchor="end" fill="#231f20" stroke="#231f20" stroke-width="0.25" >-2.0</text>
<text x="220.8" y="484.44" font-size="7.6" font-weight="bold" font-style="normal" text-anchor="end" fill="#231f20" stroke="#231f20" stroke-width="0.25" >-2.5</text>
<text x="0" y="0" font-size="8.3" font-weight="bold" font-style="normal" text-anchor="middle" fill="#231f20" stroke="#231f20" stroke-width="0.25" transform="translate(199.9,428.6) rotate(-90)">Normalized expression units</text>
<text x="274.8" y="369.5" font-size="9.0" font-weight="bold" font-style="italic" text-anchor="middle" fill="#231f20" stroke="#231f20" stroke-width="0.25" >Lck</text>
<line x1="250.6" y1="419.24240000000003" x2="250.6" y2="439.06440000000003" stroke="#555" stroke-width="0.9" />
<line x1="250.6" y1="464.94960000000003" x2="250.6" y2="479.87440000000004" stroke="#555" stroke-width="0.9" />
<line x1="237.65" y1="419.24240000000003" x2="263.55" y2="419.24240000000003" stroke="#777" stroke-width="0.9" />
<line x1="237.65" y1="479.87440000000004" x2="263.55" y2="479.87440000000004" stroke="#777" stroke-width="0.9" />
<rect x="237.65" y="439.06" width="25.9" height="25.89" fill="#3c52ae" stroke="#141c5a" stroke-width="0.9"/>
<line x1="237.65" y1="453.75600000000003" x2="263.55" y2="453.75600000000003" stroke="#1a2266" stroke-width="1.0" />
<circle cx="250.6" cy="419.24" r="0.9" fill="#111"/>
<circle cx="250.6" cy="479.87" r="0.9" fill="#111"/>
<line x1="303.2" y1="423.44" x2="303.2" y2="430.9024" stroke="#555" stroke-width="0.9" />
<line x1="303.2" y1="443.9616" x2="303.2" y2="460.28560000000004" stroke="#555" stroke-width="0.9" />
<line x1="290.15" y1="423.44" x2="316.25" y2="423.44" stroke="#777" stroke-width="0.9" />
<line x1="290.15" y1="460.28560000000004" x2="316.25" y2="460.28560000000004" stroke="#777" stroke-width="0.9" />
<rect x="290.15" y="430.90" width="26.1" height="13.06" fill="#f01f26" stroke="#9a1a1e" stroke-width="0.9"/>
<line x1="290.15" y1="438.598" x2="316.25" y2="438.598" stroke="#7a0e10" stroke-width="1.0" />
<circle cx="303.2" cy="386.13" r="0.9" fill="#111"/>
<circle cx="303.2" cy="475.44" r="0.9" fill="#111"/>
<text x="252.3" y="491.3" font-size="7.5" font-weight="bold" font-style="normal" text-anchor="middle" fill="#231f20" stroke="#231f20" stroke-width="0.25" >Normal</text>
<text x="252.3" y="499.6" font-size="7.5" font-weight="bold" font-style="normal" text-anchor="middle" fill="#231f20" stroke="#231f20" stroke-width="0.25" >B-Cell</text>
<text x="303.0" y="496.3" font-size="7.5" font-weight="bold" font-style="normal" text-anchor="middle" fill="#231f20" stroke="#231f20" stroke-width="0.25" >B-CLL</text>
</svg>
</body></html>
